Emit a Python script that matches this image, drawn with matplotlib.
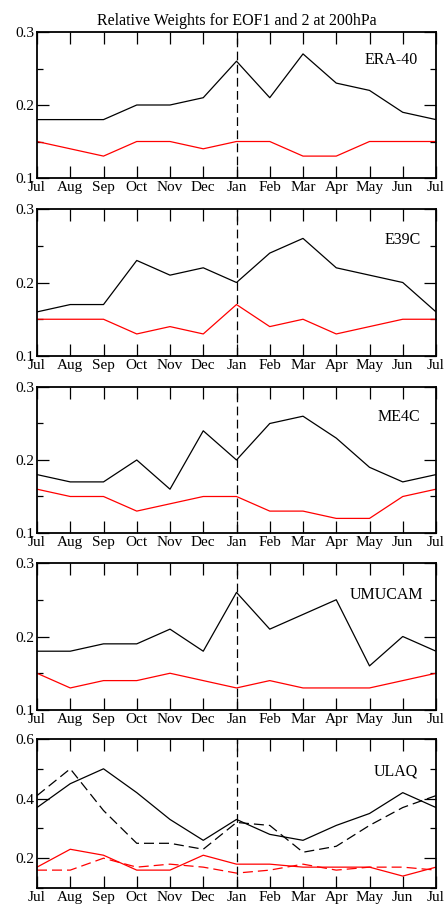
import matplotlib
matplotlib.use("Agg")
import matplotlib.pyplot as plt
from matplotlib.ticker import MultipleLocator

plt.rcParams['font.family'] = ['Liberation Serif', 'DejaVu Serif']

months = ["Jul", "Aug", "Sep", "Oct", "Nov", "Dec", "Jan",
          "Feb", "Mar", "Apr", "May", "Jun", "Jul"]

# EOF1 (black) and EOF2 (red) relative weights
era40_eof1 = [0.18, 0.18, 0.18, 0.20, 0.20, 0.21, 0.26, 0.21, 0.27, 0.23, 0.22, 0.19, 0.18]
era40_eof2 = [0.15, 0.14, 0.13, 0.15, 0.15, 0.14, 0.15, 0.15, 0.13, 0.13, 0.15, 0.15, 0.15]

e39c_eof1 = [0.16, 0.17, 0.17, 0.23, 0.21, 0.22, 0.20, 0.24, 0.26, 0.22, 0.21, 0.20, 0.16]
e39c_eof2 = [0.15, 0.15, 0.15, 0.13, 0.14, 0.13, 0.17, 0.14, 0.15, 0.13, 0.14, 0.15, 0.15]

me4c_eof1 = [0.18, 0.17, 0.17, 0.20, 0.16, 0.24, 0.20, 0.25, 0.26, 0.23, 0.19, 0.17, 0.18]
me4c_eof2 = [0.16, 0.15, 0.15, 0.13, 0.14, 0.15, 0.15, 0.13, 0.13, 0.12, 0.12, 0.15, 0.16]

umucam_eof1 = [0.18, 0.18, 0.19, 0.19, 0.21, 0.18, 0.26, 0.21, 0.23, 0.25, 0.16, 0.20, 0.18]
umucam_eof2 = [0.15, 0.13, 0.14, 0.14, 0.15, 0.14, 0.13, 0.14, 0.13, 0.13, 0.13, 0.14, 0.15]

ulaq_eof1 = [0.37, 0.45, 0.50, 0.42, 0.33, 0.26, 0.33, 0.28, 0.26, 0.31, 0.35, 0.42, 0.37]
ulaq_eof2 = [0.17, 0.23, 0.21, 0.16, 0.16, 0.21, 0.18, 0.18, 0.17, 0.17, 0.17, 0.14, 0.17]
ulaq_eof1_b = [0.41, 0.50, 0.36, 0.25, 0.25, 0.23, 0.32, 0.31, 0.22, 0.24, 0.31, 0.37, 0.41]
ulaq_eof2_b = [0.16, 0.16, 0.20, 0.17, 0.18, 0.17, 0.15, 0.16, 0.18, 0.16, 0.17, 0.17, 0.16]

models = ["ERA-40", "E39C", "ME4C", "UMUCAM", "ULAQ"]
eof1 = [era40_eof1, e39c_eof1, me4c_eof1, umucam_eof1, ulaq_eof1]
eof2 = [era40_eof2, e39c_eof2, me4c_eof2, umucam_eof2, ulaq_eof2]

W, H = 447, 908
fig = plt.figure(figsize=(W / 100, H / 100), dpi=100)

# panel extents in pixels (top, bottom)
rows = [(32, 178), (209, 356), (387, 533), (563, 710), (739, 888)]
left, right = 37, 436
# right edge / vertical centre of the model name, in axes fractions
name_pos = [(0.955, 0.81), (0.963, 0.79), (0.960, 0.795), (0.968, 0.78), (0.955, 0.78)]

x = list(range(len(months)))
lw = 0.9

for i, (top, bot) in enumerate(rows):
    ax = fig.add_axes([left / W, 1 - bot / H, (right - left) / W, (bot - top) / H])
    ax.plot(x, eof1[i], color="black", lw=lw)
    ax.plot(x, eof2[i], color="red", lw=lw)
    if models[i] == "ULAQ":
        ax.plot(x, ulaq_eof1_b, color="black", lw=lw, ls=(0, (8, 4)))
        ax.plot(x, ulaq_eof2_b, color="red", lw=lw, ls=(0, (8, 4)))
        ax.set_ylim(0.1, 0.6)
        ax.set_yticks([0.2, 0.4, 0.6])
        ax.set_yticklabels(["0.2", "0.4", "0.6"])
        ax.yaxis.set_minor_locator(MultipleLocator(0.1))
    else:
        ax.set_ylim(0.1, 0.3)
        ax.set_yticks([0.1, 0.2, 0.3])
        ax.set_yticklabels(["0.1", "0.2", "0.3"])
        ax.yaxis.set_minor_locator(MultipleLocator(0.05))
    ax.axvline(6, color="black", lw=lw, ls=(0, (7, 3.5)))
    ax.set_xlim(0, 12)
    ax.set_xticks(x)
    ax.set_xticklabels(months)
    ax.tick_params(which="both", direction="in", top=True, right=True,
                   labelsize=11, width=0.9, pad=2)
    ax.tick_params(which="major", length=8.5)
    ax.tick_params(which="minor", length=4.5)
    nx, ny = name_pos[i]
    ax.text(nx, ny, models[i], transform=ax.transAxes, ha="right",
            va="center", fontsize=11.5)
    for s in ax.spines.values():
        s.set_linewidth(1.3)
    if i == 0:
        ax.set_title("Relative Weights for EOF1 and 2 at 200hPa", fontsize=11.5, pad=5)

fig.savefig("out.png", dpi=100)
